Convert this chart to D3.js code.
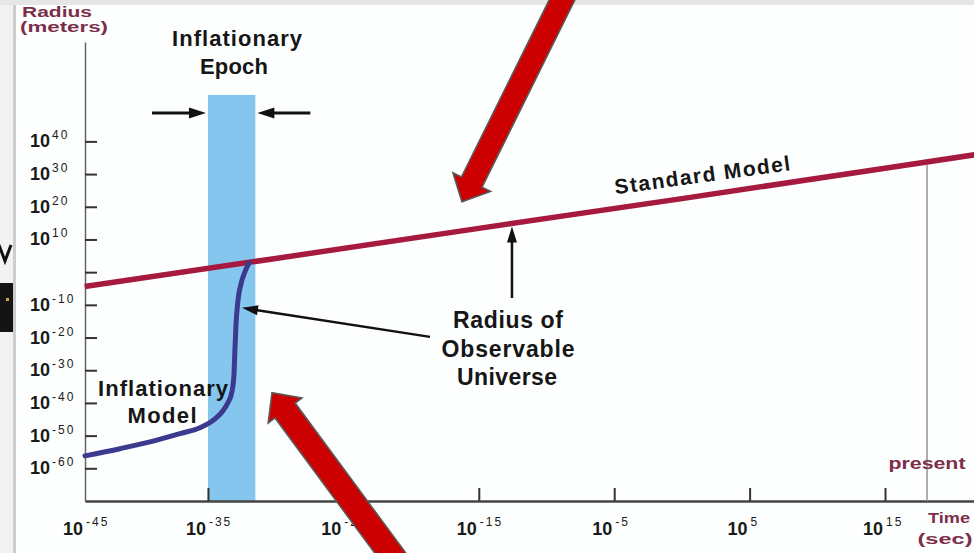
<!DOCTYPE html>
<html>
<head>
<meta charset="utf-8">
<script src="https://cdn.jsdelivr.net/npm/d3@7"></script>
<style>
  html, body { margin: 0; padding: 0; background: #fff; }
  svg { display: block; font-family: "Liberation Sans", Arial, Helvetica, sans-serif; }
</style>
</head>
<body>
<svg id="chart" width="974" height="553"></svg>
<script>
// ---- Axis ticks (exponents of ten) ----
const timeTicks    = [-35, -25, -15, -5, 5, 15];            // seconds, tick marks
const timeLabels   = [-45, -35, -25, -15, -5, 5, 15];       // seconds, labelled
const radiusTicks  = [40, 30, 20, 10, 0, -10, -20, -30, -40, -50, -60]; // meters
const radiusLabels = [40, 30, 20, 10, -10, -20, -30, -40, -50, -60];

// ---- Standard Model: log10(time, s) vs log10(radius, m) ----
const standardTime   = [-44.1, -30, -15, 0, 15, 21.6];
const standardRadius = [-4.4, 4.2, 13.4, 22.5, 31.8, 35.9];

// ---- Inflationary Model ----
const inflationTime   = [-44.08, -41.5, -39.28, -37.07, -35.59, -34.48, -33.89, -33.52,
                         -33.23, -33.08, -33.01, -32.93, -32.78, -32.56, -32.27, -31.97];
const inflationRadius = [-56.2, -54.0, -51.9, -49.4, -47.6, -44.9, -42.4, -39.9,
                         -36.6, -31.4, -23.8, -16.1, -8.5, -3.6, 0.1, 2.8];

// ---- Inflationary epoch and present day ----
const epochStart = -35, epochEnd = -31.5;   // log10 seconds
const epochTop = 54.2;                      // log10 meters (top of shaded band)
const presentTime = 18.1;                   // log10 seconds
const observableTime = -12.55;              // where the "Radius of" pointer meets the Standard Model

const W = 974, H = 553;
const svg = d3.select("#chart");

const x = d3.scaleLinear().domain([-44.08, 21.57]).range([85, 974]);
const y = d3.scaleLinear().domain([-70, 70.4]).range([501, 42]);
const standardAt = d3.scaleLinear().domain(standardTime).range(standardRadius);

// page background and slide edge
svg.append("rect").attr("width", W).attr("height", H).attr("fill", "#fdfefe");
const edge = svg.append("g");
edge.append("rect").attr("x", 0).attr("y", 0).attr("width", 14).attr("height", H).attr("fill", "#f2f2f2");
edge.append("rect").attr("x", 13).attr("y", 0).attr("width", 3).attr("height", H).attr("fill", "#cdcdcd");
edge.append("rect").attr("x", 0).attr("y", 0).attr("width", W).attr("height", 5).attr("fill", "#e6e6e6");
edge.append("path").attr("d", "M-1,245L5,261L11,245").attr("fill", "none")
  .attr("stroke", "#111").attr("stroke-width", 3);
edge.append("rect").attr("x", 0).attr("y", 283).attr("width", 13).attr("height", 49).attr("fill", "#141414");
edge.append("rect").attr("x", 6).attr("y", 298).attr("width", 3).attr("height", 3).attr("fill", "#c9a640");

// inflationary epoch band
svg.append("rect")
  .attr("x", x(epochStart)).attr("y", y(epochTop))
  .attr("width", x(epochEnd) - x(epochStart))
  .attr("height", y.range()[0] - y(epochTop))
  .attr("fill", "#84c6ed");

// small black pointer with a triangular head
function pointer(g, x1, y1, x2, y2, headL = 15, headHalf = 5, sw = 2.5) {
  const dx = x2 - x1, dy = y2 - y1, len = Math.hypot(dx, dy);
  const ux = dx / len, uy = dy / len, nx = -uy, ny = ux;
  const bx = x2 - ux * headL, by = y2 - uy * headL;
  g.append("line").attr("x1", x1).attr("y1", y1).attr("x2", bx + ux * 2).attr("y2", by + uy * 2)
    .attr("stroke", "#111").attr("stroke-width", sw);
  g.append("path")
    .attr("d", `M${x2},${y2}L${bx + nx * headHalf},${by + ny * headHalf}L${bx - nx * headHalf},${by - ny * headHalf}Z`)
    .attr("fill", "#111");
}

const ann = svg.append("g");
const bandArrowY = y(48.7);
pointer(ann, x(epochStart) - 56, bandArrowY, x(epochStart) - 2, bandArrowY, 17, 5.5, 3);
pointer(ann, x(epochEnd) + 55, bandArrowY, x(epochEnd) + 2, bandArrowY, 17, 5.5, 3);

// axes
const yAxis = d3.axisLeft(y).tickValues(radiusTicks).tickSize(-12).tickSizeOuter(0).tickFormat("");
const gy = svg.append("g").attr("transform", `translate(${x.range()[0]},0)`).call(yAxis);
gy.select(".domain").attr("stroke", "#666").attr("stroke-width", 1.5);
gy.selectAll(".tick line").attr("stroke", "#333").attr("stroke-width", 2);

const xAxis = d3.axisBottom(x).tickValues(timeTicks).tickSize(-13).tickSizeOuter(0).tickFormat("");
const gx = svg.append("g").attr("transform", `translate(0,${y.range()[0]})`).call(xAxis);
gx.select(".domain").attr("stroke", "#444").attr("stroke-width", 2.5);
gx.selectAll(".tick line").attr("stroke", "#333").attr("stroke-width", 2);

// tick labels: 10 with a superscript exponent
const labelFont = 18, supFont = 12;
radiusLabels.forEach(e => {
  const ty = y(e);
  svg.append("text").attr("x", 50).attr("y", ty + 6).attr("text-anchor", "end")
    .attr("font-size", labelFont).attr("font-weight", "bold").attr("fill", "#1a1a1a").text("10");
  svg.append("text").attr("x", 52).attr("y", ty - 2)
    .attr("font-size", supFont).attr("letter-spacing", 2).attr("fill", "#1a1a1a").text(String(e));
});
timeLabels.forEach(e => {
  const tx = Math.max(x(e), x.range()[0]);
  svg.append("text").attr("x", tx - 2).attr("y", 535).attr("text-anchor", "end")
    .attr("font-size", labelFont).attr("font-weight", "bold").attr("fill", "#1a1a1a").text("10");
  svg.append("text").attr("x", tx + 1).attr("y", 526)
    .attr("font-size", supFont).attr("letter-spacing", 2).attr("fill", "#1a1a1a").text(String(e));
});

// axis titles
const maroon = "#7d2e4b";
function fitted(txt, cx, by, len, size, color, weight = "bold") {
  return svg.append("text").attr("x", cx).attr("y", by).attr("text-anchor", "middle")
    .attr("font-size", size).attr("font-weight", weight).attr("fill", color)
    .attr("textLength", len).attr("lengthAdjust", "spacingAndGlyphs").text(txt);
}
fitted("Radius", 57, 17, 70, 14, maroon);
fitted("(meters)", 64, 32, 88, 14, maroon);
fitted("Time", 949, 523, 42, 15, maroon);
fitted("(sec)", 945, 544, 55, 15, maroon);

// present day marker
svg.append("line")
  .attr("x1", x(presentTime)).attr("x2", x(presentTime))
  .attr("y1", y(standardAt(presentTime)) + 3).attr("y2", y.range()[0])
  .attr("stroke", "#9a9a9a").attr("stroke-width", 1.6);
fitted("present", x(presentTime), 469, 77, 17, maroon);

// model curves
const stdLine = d3.line()
  .x(i => x(standardTime[i])).y(i => y(standardRadius[i]));
svg.append("path").attr("d", stdLine(d3.range(standardTime.length)))
  .attr("fill", "none").attr("stroke", "#a51a3e").attr("stroke-width", 5.5);

const infLine = d3.line()
  .x(i => x(inflationTime[i])).y(i => y(inflationRadius[i]))
  .curve(d3.curveMonotoneX);
svg.append("path").attr("d", infLine(d3.range(inflationTime.length)))
  .attr("fill", "none").attr("stroke", "#3b3a8e").attr("stroke-width", 5)
  .attr("stroke-linecap", "round");

// labels
const black = "#161616";
fitted("Inflationary", 237, 46, 130, 22, black).attr("lengthAdjust", "spacing");
fitted("Epoch", 234, 74, 68, 22, black).attr("lengthAdjust", "spacing");
fitted("Inflationary", 163, 396, 130, 22, black).attr("lengthAdjust", "spacing");
fitted("Model", 162, 423, 69, 22, black).attr("lengthAdjust", "spacing");
fitted("Radius of", 508, 328, 110, 23, black).attr("lengthAdjust", "spacing");
fitted("Observable", 508, 357, 133, 23, black).attr("lengthAdjust", "spacing");
fitted("Universe", 507, 385, 100, 23, black).attr("lengthAdjust", "spacing");

// Standard Model label along the line
const t1 = standardTime[0], t2 = standardTime[standardTime.length - 1];
const ang = Math.atan2(y(standardRadius[standardRadius.length - 1]) - y(standardRadius[0]), x(t2) - x(t1)) * 180 / Math.PI;
const lblT = -4.9;
const lx = x(lblT), ly = y(standardAt(lblT)) - 14;
svg.append("text").attr("transform", `translate(${lx},${ly}) rotate(${ang + 0.6})`)
  .attr("font-size", 21).attr("font-weight", "bold").attr("fill", black)
  .attr("textLength", 177).attr("lengthAdjust", "spacing").text("Standard Model");

// pointers to the observable-universe radius
const obsX = x(observableTime);
pointer(ann, obsX, 298, obsX, y(standardAt(observableTime)) + 3, 16, 5, 2.5);
pointer(ann, x(-18.6), y(-19.8), x(-32.49), y(-10.9), 16, 5, 2.5);
svg.node().appendChild(ann.node());

// red call-out arrows
function blockArrow(tail, tip, shaftW, headW, headL) {
  const dx = tail[0] - tip[0], dy = tail[1] - tip[1], len = Math.hypot(dx, dy);
  const ux = dx / len, uy = dy / len, nx = -uy, ny = ux;
  const bx = tip[0] + ux * headL, by = tip[1] + uy * headL;
  const pts = [
    tip,
    [bx + nx * headW / 2, by + ny * headW / 2],
    [bx + nx * shaftW / 2, by + ny * shaftW / 2],
    [tail[0] + nx * shaftW / 2, tail[1] + ny * shaftW / 2],
    [tail[0] - nx * shaftW / 2, tail[1] - ny * shaftW / 2],
    [bx - nx * shaftW / 2, by - ny * shaftW / 2],
    [bx - nx * headW / 2, by - ny * headW / 2]
  ];
  svg.append("path").attr("d", "M" + pts.map(p => p.join(",")).join("L") + "Z")
    .attr("fill", "#cc0000").attr("stroke", "#5a5a5a").attr("stroke-width", 1.6)
    .attr("stroke-linejoin", "miter");
}
blockArrow([x(-8.12), y(89.4)], [x(-16.24), y(21.5)], 23, 42, 22);
blockArrow([x(-20.08), y(-94.1)], [x(-30.27), y(-36.9)], 25, 42, 22);
</script>
</body>
</html>
